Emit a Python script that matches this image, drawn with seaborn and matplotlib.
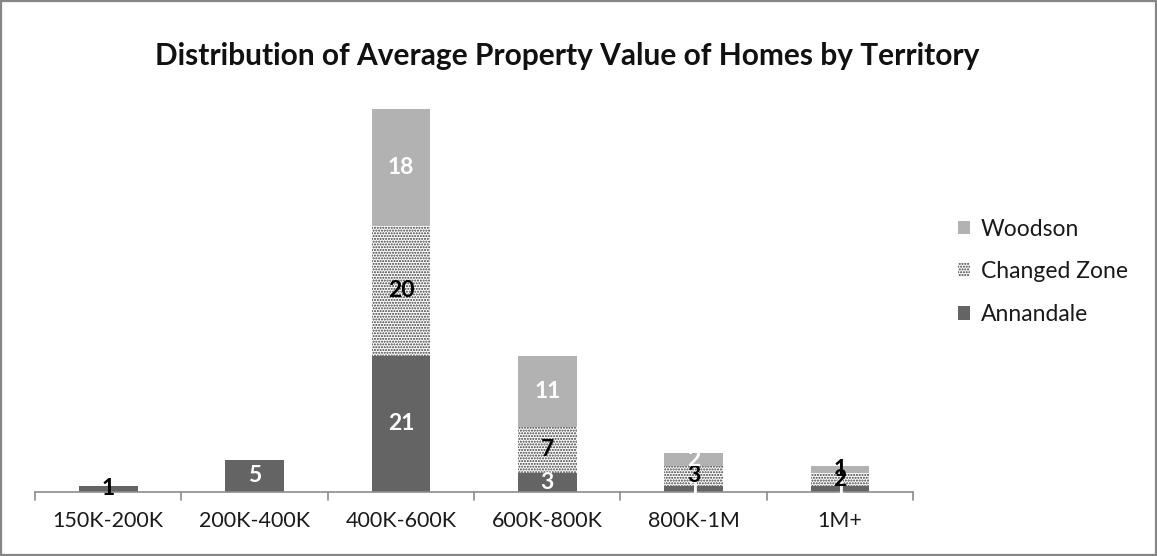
import numpy as np
import pandas as pd
import matplotlib
matplotlib.use("Agg")
import matplotlib.pyplot as plt
import seaborn as sns
from matplotlib.patches import Patch, Rectangle

categories = ["150K-200K", "200K-400K", "400K-600K", "600K-800K", "800K-1M", "1M+"]
annandale = [1, 5, 21, 3, 1, 1]
changed_zone = [0, 0, 20, 7, 3, 2]
woodson = [0, 0, 18, 11, 2, 1]

sns.set_theme(style="white")
plt.rcParams["font.family"] = ["Lato", "DejaVu Sans"]

df = pd.DataFrame({"cat": categories, "Annandale": annandale,
                   "Changed Zone": changed_zone, "Woodson": woodson})
df["b2"] = df["Annandale"]
df["b3"] = df["Annandale"] + df["Changed Zone"]

fig = plt.figure(figsize=(11.57, 5.56), dpi=100)
ax = fig.add_axes([0.0303, 0.1151, 0.759, 0.7014])

BAR_W = 0.4
sns.barplot(data=df, x="cat", y="Annandale", color="#646464", saturation=1,
            width=BAR_W, linewidth=0, ax=ax)
n0 = len(ax.patches)
sns.barplot(data=df, x="cat", y="Changed Zone", bottom=df["b2"], color="white",
            saturation=1, width=BAR_W, linewidth=0, hatch="......", ax=ax)
for p in ax.patches[n0:]:
    p.set_edgecolor("#3a3a3a")
    p.set_linewidth(0)
sns.barplot(data=df, x="cat", y="Woodson", bottom=df["b3"], color="#b2b2b2",
            saturation=1, width=BAR_W, linewidth=0, ax=ax)

# data labels
lbl = dict(ha="center", va="center", fontsize=16.5, fontweight="bold")
for i in range(len(categories)):
    a, c, w = annandale[i], changed_zone[i], woodson[i]
    ax.text(i, a / 2, str(a), color="black" if i == 0 else "white", **lbl)
    if c:
        ax.text(i, a + c / 2, str(c), color="black", **lbl)
    if w:
        ax.text(i, a + c + w / 2, str(w), color="black" if i == 5 else "white", **lbl)

ax.set_ylim(0, 60)
ax.set_xlim(-0.5, 5.5)
ax.set_xlabel("")
ax.set_ylabel("")
ax.set_yticks([])
for s in ["top", "right", "left"]:
    ax.spines[s].set_visible(False)
ax.spines["bottom"].set_color("#8c8c8c")
ax.spines["bottom"].set_linewidth(1.2)
ax.set_xticks(np.arange(len(categories)))
ax.set_xticklabels(categories, fontsize=15.5, color="#1a1a1a")
ax.tick_params(axis="x", length=0, pad=14)
for x in np.arange(-0.5, 6.0, 1.0):
    ax.plot([x, x], [0, -1.25], color="#8c8c8c", lw=1.2, clip_on=False)

fig.text(0.49, 0.899, "Distribution of Average Property Value of Homes by Territory",
         ha="center", va="center", fontsize=21.5, fontweight="bold", color="#111111")

handles = [Patch(facecolor="#b2b2b2", linewidth=0, label="Woodson"),
           Patch(facecolor="white", edgecolor="#3a3a3a", linewidth=0, hatch="......",
                 label="Changed Zone"),
           Patch(facecolor="#646464", linewidth=0, label="Annandale")]
fig.legend(handles=handles, loc="center left", bbox_to_anchor=(0.81, 0.511),
           frameon=False, fontsize=16.5, handlelength=0.55, handleheight=0.55,
           labelspacing=0.95, handletextpad=0.45, labelcolor="#1a1a1a")

fig.patches.append(Rectangle((0.001, 0.002), 0.998, 0.996, transform=fig.transFigure,
                             fill=False, edgecolor="#868686", lw=1.6))

fig.savefig("out.png", dpi=100)
